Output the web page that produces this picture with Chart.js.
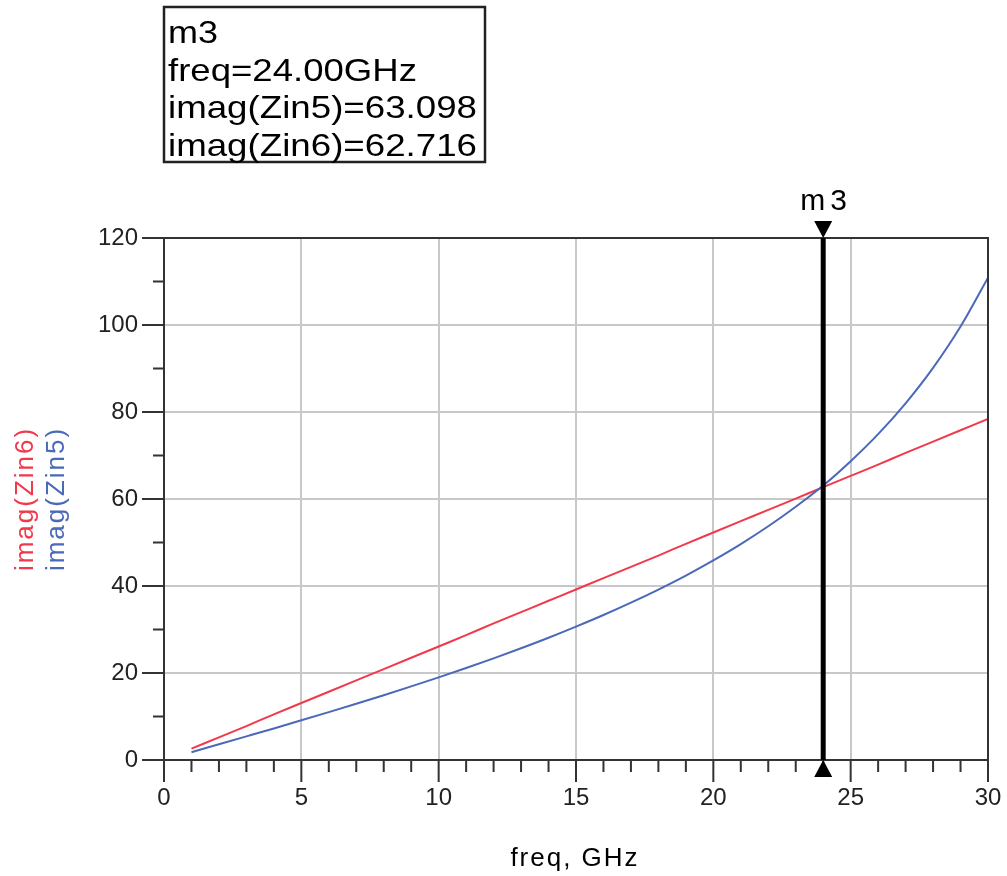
<!DOCTYPE html>
<html>
<head>
<meta charset="utf-8">
<script src="https://cdn.jsdelivr.net/npm/chart.js@4.4.1/dist/chart.umd.min.js"></script>
<style>
html,body{margin:0;padding:0;background:#fff;}
canvas{display:block;}
</style>
</head>
<body>
<canvas id="c" width="1007" height="876"></canvas>
<script>
// ---- data ----
const freqGHz = [1,2,3,4,5,6,7,8,9,10,11,12,13,14,15,16,17,18,19,20,21,22,23,24,25,26,27,28,29,30];
const imagZin5 = [1.80,3.61,5.43,7.26,9.12,11.01,12.93,14.90,16.92,18.99,21.15,23.37,25.69,28.11,30.66,33.33,36.17,39.19,42.41,45.89,49.64,53.73,58.22,63.10,68.70,74.92,82.00,90.14,99.64,110.88];
const imagZin6 = [2.6,5.2,7.8,10.5,13.1,15.7,18.3,20.9,23.5,26.1,28.7,31.4,34.0,36.6,39.2,41.8,44.4,47.0,49.7,52.3,54.9,57.5,60.1,62.72,65.3,67.9,70.6,73.2,75.8,78.4];
const xTicks = [0,5,10,15,20,25,30];
const yTicks = [0,20,40,60,80,100,120];
const xMinorTicks = [1,2,3,4,6,7,8,9,11,12,13,14,16,17,18,19,21,22,23,24,26,27,28,29];
const yMinorTicks = [10,30,50,70,90,110];
const markerName = 'm3';
const markerFreq = 24;
const markerLines = ['m3','freq=24.00GHz','imag(Zin5)=63.098','imag(Zin6)=62.716'];
const xTitle = 'freq, GHz';
const yTitles = ['imag(Zin6)','imag(Zin5)'];

const RED = '#f03a4c';
const BLUE = '#4a69b8';
const AXIS = '#333333';
const GRID = '#c8c8c8';
const FONT = "Arial, 'Liberation Sans', sans-serif";
const readoutWidths = [50, 249, 309, 309];

const toXY = (xs, ys) => xs.map((x, i) => ({x, y: ys[i]}));

const decor = {
  id: 'decor',
  afterDatasetsDraw(chart) {
    const ctx = chart.ctx;
    const a = chart.chartArea;
    const xs = chart.scales.x, ys = chart.scales.y;
    ctx.save();
    // frame (top & right)
    ctx.strokeStyle = AXIS; ctx.lineWidth = 2;
    ctx.beginPath();
    ctx.moveTo(a.left, a.top); ctx.lineTo(a.right, a.top); ctx.lineTo(a.right, a.bottom);
    ctx.stroke();
    // major & minor ticks
    ctx.beginPath();
    xTicks.forEach(v => { const p = xs.getPixelForValue(v); ctx.moveTo(p, a.bottom); ctx.lineTo(p, a.bottom + 22); });
    xMinorTicks.forEach(v => { const p = xs.getPixelForValue(v); ctx.moveTo(p, a.bottom); ctx.lineTo(p, a.bottom + 12); });
    yTicks.forEach(v => { const p = ys.getPixelForValue(v); ctx.moveTo(a.left, p); ctx.lineTo(a.left - 22, p); });
    yMinorTicks.forEach(v => { const p = ys.getPixelForValue(v); ctx.moveTo(a.left, p); ctx.lineTo(a.left - 11, p); });
    ctx.stroke();
    // marker
    const mx = xs.getPixelForValue(markerFreq);
    ctx.strokeStyle = '#000'; ctx.lineWidth = 5;
    ctx.beginPath(); ctx.moveTo(mx, a.top); ctx.lineTo(mx, a.bottom); ctx.stroke();
    ctx.fillStyle = '#000';
    ctx.beginPath(); ctx.moveTo(mx - 9, a.top - 17); ctx.lineTo(mx + 9, a.top - 17); ctx.lineTo(mx, a.top); ctx.closePath(); ctx.fill();
    ctx.beginPath(); ctx.moveTo(mx - 9, a.bottom + 17); ctx.lineTo(mx + 9, a.bottom + 17); ctx.lineTo(mx, a.bottom); ctx.closePath(); ctx.fill();
    ctx.font = '30px ' + FONT; ctx.textAlign = 'center'; ctx.textBaseline = 'alphabetic';
    ctx.letterSpacing = '5px';
    ctx.fillText(markerName, mx + 3, 210);
    // marker readout box
    ctx.lineWidth = 2.5; ctx.strokeStyle = '#222';
    ctx.strokeRect(164, 7, 321, 155);
    ctx.textAlign = 'left'; ctx.font = '30px ' + FONT; ctx.letterSpacing = '0px';
    markerLines.forEach((t, i) => {
      const w = ctx.measureText(t).width;
      const sx = readoutWidths[i] / w;
      ctx.save();
      ctx.translate(168, 43 + i * 37.5);
      ctx.scale(sx, 1.03);
      ctx.fillText(t, 0, 0);
      ctx.restore();
    });
    // x title
    ctx.font = '26px ' + FONT; ctx.letterSpacing = '2px'; ctx.textAlign = 'center';
    ctx.fillText(xTitle, (a.left + a.right) / 2 - 1, 866);
    // y titles (two colours)
    ctx.save();
    ctx.translate(0, (a.top + a.bottom) / 2);
    ctx.rotate(-Math.PI / 2);
    ctx.fillStyle = RED; ctx.fillText(yTitles[0], 0, 33);
    ctx.fillStyle = BLUE; ctx.fillText(yTitles[1], 0, 64);
    ctx.restore();
    ctx.restore();
  }
};

new Chart(document.getElementById('c'), {
  type: 'line',
  data: {
    datasets: [
      { label: 'imag(Zin5)', data: toXY(freqGHz, imagZin5), borderColor: BLUE, borderWidth: 2, pointRadius: 0, cubicInterpolationMode: 'monotone', fill: false },
      { label: 'imag(Zin6)', data: toXY(freqGHz, imagZin6), borderColor: RED, borderWidth: 2, pointRadius: 0, cubicInterpolationMode: 'monotone', fill: false }
    ]
  },
  options: {
    responsive: false,
    animation: false,
    devicePixelRatio: 1,
    layout: { padding: { top: 238, right: 19, left: 0, bottom: 0 } },
    plugins: { legend: { display: false }, tooltip: { enabled: false }, title: { display: false } },
    scales: {
      x: {
        type: 'linear', min: 0, max: 30,
        afterBuildTicks: s => { s.ticks = xTicks.map(v => ({value: v})); },
        afterFit: s => { s.height = 116; },
        grid: { color: GRID, lineWidth: 2, tickColor: 'rgba(0,0,0,0)', tickLength: 22 },
        border: { display: true, color: AXIS, width: 2 },
        ticks: { color: '#222', font: { size: 24, family: FONT }, padding: 2, maxRotation: 0, autoSkip: false }
      },
      y: {
        type: 'linear', min: 0, max: 120,
        afterBuildTicks: s => { s.ticks = yTicks.map(v => ({value: v})); },
        afterFit: s => { s.width = 164; },
        grid: { color: GRID, lineWidth: 2, tickColor: 'rgba(0,0,0,0)', tickLength: 22 },
        border: { display: true, color: AXIS, width: 2 },
        ticks: { color: '#222', font: { size: 24, family: FONT }, padding: 4, autoSkip: false }
      }
    }
  },
  plugins: [decor]
});
</script>
</body>
</html>
